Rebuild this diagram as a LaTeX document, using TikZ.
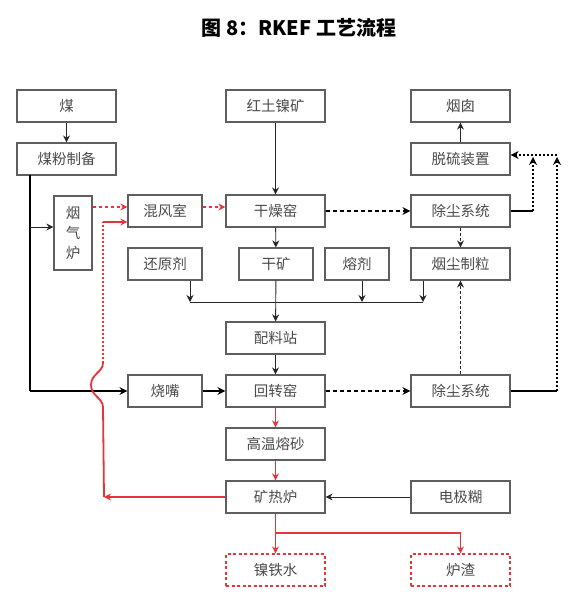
\documentclass[tikz,border=0pt]{standalone}
\usepackage{fontspec}
\setmainfont{Noto Sans CJK SC}
\usetikzlibrary{arrows.meta}
\definecolor{boxline}{HTML}{5E5E5E}
\definecolor{txt}{HTML}{4A4A4A}
\definecolor{rd}{HTML}{E5343A}
\begin{document}
\begin{tikzpicture}[x=1pt,y=-1pt,
  box/.style={draw=boxline,line width=1.2pt,text=txt,font=\fontsize{14.5}{16}\selectfont,inner sep=0pt,minimum width=99pt,minimum height=32pt},
  sbox/.style={box,minimum width=74pt},
  rbox/.style={box,draw=rd,dashed,dash pattern=on 3pt off 2.5pt},
  arr/.style={-{Stealth[length=7pt,width=7pt]},line width=0.9pt,draw=black!85},
  tarr/.style={-{Stealth[length=8pt,width=8pt]},line width=1.8pt,draw=black},
  thk/.style={line width=1.8pt,draw=black},
  darr/.style={tarr,dash pattern=on 4pt off 3pt},
  dtarr/.style={arr,dash pattern=on 3pt off 2pt},
  dot/.style={line width=2pt,dash pattern=on 2pt off 2pt},
  rarr/.style={-{Stealth[length=7pt,width=7pt]},line width=1.1pt,draw=rd},
  rthk/.style={line width=1.8pt,draw=rd},
]
\useasboundingbox (0,0) rectangle (572,602);
\node[font=\fontsize{20}{22}\selectfont\bfseries] (title) at (299,28) {图 8：RKEF 工艺流程};

\node[box] (mei) at (66.5,106) {煤};
\node[box] (mfzb) at (66.5,159) {煤粉制备};
\node[box] (htnk) at (275.5,106) {红土镍矿};
\node[box] (yc) at (460.5,106) {烟囱};
\node[box] (tlzz) at (460.5,159) {脱硫装置};
\node[box,minimum width=38pt,minimum height=74pt,align=center,font=\fontsize{14.5}{20}\selectfont] (yql) at (73,233) {烟\\气\\炉};
\node[sbox] (hfs) at (165,211) {混风室};
\node[box] (gzy) at (275.5,211) {干燥窑};
\node[box] (cc1) at (460.5,211) {除尘系统};
\node[sbox] (hyj) at (165,264) {还原剂};
\node[sbox] (gk) at (276,264) {干矿};
\node[box,minimum width=64pt] (rj) at (357,264) {熔剂};
\node[box] (yczl) at (460.5,264) {烟尘制粒};
\node[box] (plz) at (275.5,338) {配料站};
\node[sbox] (sz) at (165,391) {烧嘴};
\node[box] (hzy) at (275.5,391) {回转窑};
\node[box] (cc2) at (460.5,391) {除尘系统};
\node[box] (gwrs) at (275.5,444) {高温熔砂};
\node[box] (krl) at (275.5,497) {矿热炉};
\node[box] (djh) at (460.5,497) {电极糊};
\node[rbox] (nts) at (275.5,570) {镍铁水};
\node[rbox] (lz) at (460.5,570) {炉渣};

% coordinates
\coordinate (c1) at (30,175);
\coordinate (c2) at (30,391);
\coordinate (c3) at (30,227);
\coordinate (h1) at (190,302);
\coordinate (h2) at (362,302);
\coordinate (h3) at (423,302);
\coordinate (r1) at (533,211);
\coordinate (r2) at (533,157);
\coordinate (r3) at (557,391);
\coordinate (r4) at (557,157);
\coordinate (r5) at (557,155);
\coordinate (k1) at (104,497);
\coordinate (k2) at (103,407);
\coordinate (k3) at (103,363);
\coordinate (k4) at (103,222);
\coordinate (b1) at (276,533);
\coordinate (b2) at (460.5,533);

% black connectors
\draw[arr] (mei) -- (mfzb);
\draw[thk] (c1) -- (c2);
\draw[tarr] (c2) -- (sz.west);
\draw[arr] (c3) -- (c3 -| yql.west);
\draw[arr] (htnk) -- (gzy);
\draw[arr] (gzy) -- (gk);
\draw[arr] (gk) -- (plz);
\draw[arr] (plz) -- (hzy);
\draw[tarr] (sz) -- (hzy);
\draw[darr] (gzy) -- (cc1);
\draw[darr] (hzy) -- (cc2);
\draw[arr] (tlzz) -- (yc);
\draw[dtarr] (cc1) -- (yczl);
\draw[dtarr] (cc2) -- (yczl);
\draw[arr] (hyj.south -| h1) -- (h1);
\draw[arr] (rj.south -| h2) -- (h2);
\draw[arr] (yczl.south -| h3) -- (h3);
\draw[line width=0.9pt,draw=black!85] (h1) -- (h3);
\draw[arr] (djh) -- (krl);
% right returns
\draw[thk] (cc1.east) -- (r1);
\draw[tarr,dot] (r1) -- (r2);
\draw[thk] (cc2.east) -- (r3);
\draw[tarr,dot] (r3) -- (r4);
\draw[tarr,dot] (r5) -- (r5 -| tlzz.east);

% red connectors
\draw[rarr,dash pattern=on 3pt off 3pt] (yql.east |- 0,207) -- (hfs.west |- 0,207);
\draw[rarr,dash pattern=on 3pt off 3pt] (hfs.east |- 0,207) -- (gzy.west |- 0,207);
\draw[rarr] (hzy) -- (gwrs);
\draw[rarr] (gwrs) -- (krl);
\draw[rarr,line width=1.8pt] (krl.west) -- (k1);
\draw[rthk] (k1) -- (k2) .. controls (103,398) and (91,396) .. (91,385) .. controls (91,374) and (103,372) .. (k3);
\draw[rthk,dot] (k3) -- (k4);
\draw[rarr,line width=1.8pt] (k4) -- (k4 -| hfs.west);
\draw[rarr] (krl) -- (nts);
\draw[rarr] (b1) -- (b2) -- (lz);
\end{tikzpicture}
\end{document}
